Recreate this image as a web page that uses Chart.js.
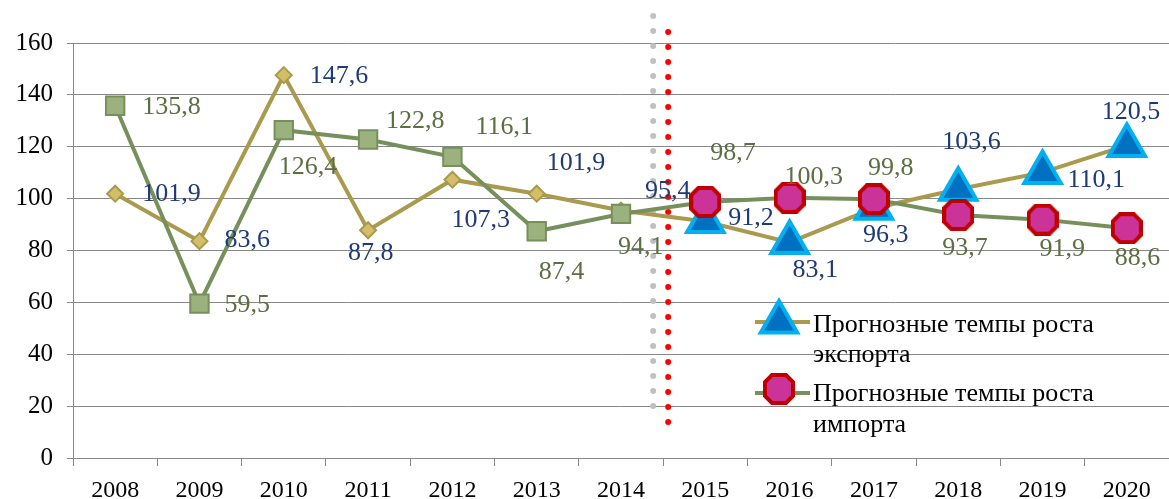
<!DOCTYPE html>
<html>
<head>
<meta charset="utf-8">
<script src="https://cdn.jsdelivr.net/npm/chart.js@4.4.1/dist/chart.umd.min.js"></script>
<style>
  html, body { margin: 0; padding: 0; background: #fff; overflow: hidden; }
  #wrap { width: 1169px; height: 499px; }
</style>
</head>
<body>
<div id="wrap"><canvas id="growthChart"></canvas></div>
<script>
// Chart data
const years = ['2008', '2009', '2010', '2011', '2012', '2013', '2014', '2015', '2016', '2017', '2018', '2019', '2020'];
const exportGrowth = [101.9, 83.6, 147.6, 87.8, 107.3, 101.9, 95.4, 91.2, 83.1, 96.3, 103.6, 110.1, 120.5];
const importGrowth = [135.8, 59.5, 126.4, 122.8, 116.1, 87.4, 94.1, 98.7, 100.3, 99.8, 93.7, 91.9, 88.6];
const forecastStart = 7; // first forecast year (2015)
const legendExport = ['Прогнозные темпы роста', 'экспорта'];
const legendImport = ['Прогнозные темпы роста', 'импорта'];

// Label placement (dx to the left edge, dy to the middle) per point
const exportLabelOffset = [[27, 0], [25, -1], [26, 1], [-20, 23], [-1, 40], [10, -31], [24, -19],
                           [23, -3], [3, 28], [-11, 27], [-16, -47], [25, 8], [-25, -33]];
const importLabelOffset = [[27, 1], [25, 1], [-5, 37], [18, -18], [23, -30], [2, 41], [-3, 33],
                           [5, -49], [-5, -21], [-6, -31], [-16, 33], [-3, 30], [-12, 30]];

const FONT = '"Liberation Serif", "Times New Roman", serif';
const GRID = '#888888';

// Octagon marker for forecast import points
function makeOctagon(size, border, fill, stroke) {
    const c = document.createElement('canvas');
    c.width = size; c.height = size;
    const g = c.getContext('2d');
    const h = border / 2, s = size - border, cut = s * 0.25;
    g.beginPath();
    g.moveTo(h + cut, h); g.lineTo(h + s - cut, h); g.lineTo(h + s, h + cut); g.lineTo(h + s, h + s - cut);
    g.lineTo(h + s - cut, h + s); g.lineTo(h + cut, h + s); g.lineTo(h, h + s - cut); g.lineTo(h, h + cut);
    g.closePath();
    g.fillStyle = fill; g.fill();
    g.lineWidth = border; g.strokeStyle = stroke; g.stroke();
    return c;
}
const octagon = makeOctagon(32, 4, '#CC3399', '#C00000');

function drawTriangle(ctx, x, y, r) {
    ctx.beginPath();
    ctx.moveTo(x, y - r);
    ctx.lineTo(x + Math.sin(2 * Math.PI / 3) * r, y + r / 2);
    ctx.lineTo(x - Math.sin(2 * Math.PI / 3) * r, y + r / 2);
    ctx.closePath();
    ctx.fillStyle = '#0070C0';
    ctx.fill();
    ctx.lineWidth = 4;
    ctx.strokeStyle = '#00B0F0';
    ctx.stroke();
}

// dotted separators between actual and forecast years
const separators = {
    id: 'separators',
    beforeDatasetsDraw(chart) {
        const { ctx, chartArea, scales } = chart;
        const mid = (scales.x.getPixelForValue(forecastStart - 1) + scales.x.getPixelForValue(forecastStart)) / 2;
        const dots = (x, y1, y2, color) => {
            ctx.beginPath();
            ctx.moveTo(x, y1);
            ctx.lineTo(x, y2);
            ctx.strokeStyle = color;
            ctx.stroke();
        };
        ctx.save();
        ctx.lineWidth = 6;
        ctx.lineCap = 'round';
        ctx.setLineDash([0, 15]);
        dots(mid - 10, chartArea.top - 27, chartArea.bottom - 47, '#C0C0C0');
        dots(mid + 5, chartArea.top - 11, chartArea.bottom - 33, '#FF0000');
        ctx.restore();
    }
};

// value labels next to points
const valueLabels = {
    id: 'valueLabels',
    afterDatasetsDraw(chart) {
        const ctx = chart.ctx;
        ctx.save();
        ctx.font = '26px ' + FONT;
        ctx.textAlign = 'left';
        ctx.textBaseline = 'middle';
        chart.data.datasets.forEach((ds, i) => {
            const meta = chart.getDatasetMeta(i);
            ctx.fillStyle = ds.labelColor;
            meta.data.forEach((pt, j) => {
                const [dx, dy] = ds.labelOffsets[j];
                ctx.fillText(ds.data[j].toFixed(1).replace('.', ','), pt.x + dx, pt.y + dy);
            });
        });
        ctx.restore();
    }
};

// legend drawn inside the plot area
const innerLegend = {
    id: 'innerLegend',
    afterDraw(chart) {
        const { ctx, chartArea } = chart;
        const x0 = chartArea.right - 414;
        const y0 = chartArea.top + 279;
        ctx.save();
        ctx.lineWidth = 4;
        ctx.strokeStyle = '#A99A4E';
        ctx.beginPath(); ctx.moveTo(x0, y0); ctx.lineTo(x0 + 55, y0); ctx.stroke();
        drawTriangle(ctx, x0 + 24, y0, 21);
        ctx.lineWidth = 4;
        ctx.strokeStyle = '#76905C';
        ctx.beginPath(); ctx.moveTo(x0, y0 + 71); ctx.lineTo(x0 + 55, y0 + 71); ctx.stroke();
        ctx.drawImage(octagon, x0 + 24 - 16, y0 + 67 - 16);

        ctx.font = '26px ' + FONT;
        ctx.fillStyle = '#000';
        ctx.textAlign = 'left';
        ctx.textBaseline = 'alphabetic';
        legendExport.forEach((t, k) => ctx.fillText(t, x0 + 58, y0 + 10 + k * 30));
        legendImport.forEach((t, k) => ctx.fillText(t, x0 + 58, y0 + 79 + k * 31));
        ctx.restore();
    }
};

const early = c => c.dataIndex < forecastStart;

const ctx = document.getElementById('growthChart').getContext('2d');
const growthChart = new Chart(ctx, {
    type: 'line',
    data: {
        labels: years,
        datasets: [{
            label: 'Импорт',
            data: importGrowth,
            borderColor: '#76905C',
            borderWidth: 4,
            tension: 0,
            pointStyle: c => early(c) ? 'rect' : octagon,
            pointRadius: c => early(c) ? 13 : 16,
            pointBackgroundColor: '#9BB27F',
            pointBorderColor: '#76905C',
            pointBorderWidth: 2,
            labelColor: '#5C6F43',
            labelOffsets: importLabelOffset,
            order: 1
        }, {
            label: 'Экспорт',
            data: exportGrowth,
            borderColor: '#A99A4E',
            borderWidth: 4,
            tension: 0,
            pointStyle: c => early(c) ? 'rectRot' : 'triangle',
            pointRadius: c => early(c) ? 8 : 21,
            pointBackgroundColor: c => early(c) ? '#D4BE68' : '#0070C0',
            pointBorderColor: c => early(c) ? '#A99A4E' : '#00B0F0',
            pointBorderWidth: c => early(c) ? 2 : 4,
            labelColor: '#1F3A78',
            labelOffsets: exportLabelOffset,
            order: 2
        }]
    },
    options: {
        responsive: true,
        maintainAspectRatio: false,
        animation: false,
        layout: { autoPadding: false, padding: { top: 43, right: 0, left: 0, bottom: 0 } },
        plugins: {
            legend: { display: false },
            tooltip: { enabled: false }
        },
        scales: {
            x: {
                offset: true,
                grid: { drawOnChartArea: false, offset: true, tickLength: 8, color: GRID },
                border: { color: GRID },
                ticks: { color: '#000', padding: 10, font: { family: FONT, size: 24 } },
                afterFit: s => { s.height = 41; s.paddingLeft = 0; s.paddingRight = 0; }
            },
            y: {
                min: 0,
                max: 160,
                ticks: { stepSize: 20, color: '#000', padding: 14, font: { family: FONT, size: 25 } },
                grid: { color: GRID, tickLength: 6 },
                border: { color: GRID },
                afterFit: s => { s.width = 73; }
            }
        }
    },
    plugins: [separators, valueLabels, innerLegend]
});
</script>
</body>
</html>
